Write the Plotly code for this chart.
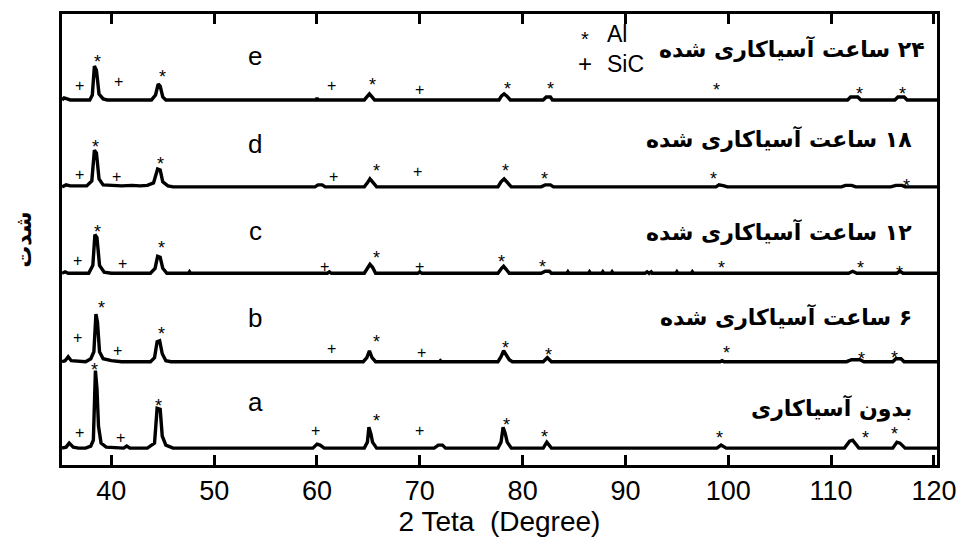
import plotly.graph_objects as go

# Diffraction patterns (2-theta in degrees, intensity in arbitrary units above each baseline)
a_x = [35.2, 35.6, 35.9, 36.3, 36.8, 37.5, 38.0, 38.25, 38.45, 38.6, 38.75, 39.0, 39.5, 40.5, 41.2, 41.5, 41.8,
       43.5, 44.2, 44.45, 44.75, 44.95, 45.3, 46.0, 59.6, 60.0, 60.3, 60.7, 64.6, 64.9, 65.05, 65.25, 65.4, 65.8,
       71.4, 71.8, 72.2, 72.5, 77.6, 77.9, 78.1, 78.3, 78.5, 78.9, 82.0, 82.35, 82.8, 98.9, 99.3, 99.8,
       111.3, 111.8, 112.1, 112.7, 116.0, 116.4, 116.7, 117.2, 120.3]
a_y = [0, 1, 5, 1, 0, 0, 2, 8, 78, 60, 22, 5, 1, 0, 0, 2, 0,
       0, 5, 40, 39, 12, 3, 0, 0, 4, 3, 0, 0, 6, 21, 14, 6, 0,
       0, 3, 3, 0, 0, 6, 21, 15, 6, 0, 0, 6, 0, 0, 3, 0,
       0, 7, 8, 0, 0, 6, 5, 0, 0]

b_x = [35.2, 35.5, 35.8, 36.1, 37.5, 38.0, 38.3, 38.5, 38.65, 38.85, 39.2, 40.0, 41.0, 43.8, 44.2, 44.45, 44.7,
       44.95, 45.3, 45.8, 64.5, 64.85, 65.1, 65.35, 65.7, 71.9, 72.0, 72.1, 77.6, 77.9, 78.15, 78.4, 78.7, 79.0,
       82.0, 82.4, 82.8, 99.2, 99.4, 99.6, 111.5, 112.0, 112.8, 113.2, 116.0, 116.3, 116.8, 117.1, 120.3]
b_y = [0, 1, 5, 1, 0, 3, 10, 48, 40, 10, 3, 1, 0, 0, 4, 20, 21,
       8, 1, 0, 0, 4, 11, 4, 0, 0, 1, 0, 0, 5, 11, 7, 2, 0,
       0, 4, 0, 0, 1, 0, 0, 2, 2, 0, 0, 3, 3, 0, 0]

c_x = [35.2, 35.5, 35.8, 37.8, 38.2, 38.4, 38.6, 38.85, 39.3, 40.0, 43.8, 44.25, 44.5, 44.75, 45.0, 45.4,
       47.5, 47.6, 47.7, 61.0, 61.2, 61.4, 64.6, 64.95, 65.15, 65.4, 65.7, 69.8, 70.0, 70.2,
       77.6, 77.95, 78.15, 78.4, 78.7, 81.8, 82.2, 82.6, 82.8, 84.3, 84.4, 84.5, 86.4, 86.5, 86.6,
       87.7, 87.8, 87.9, 88.6, 88.7, 88.8, 91.9, 92.1, 92.3, 92.5, 92.6, 94.9, 95.0, 95.1,
       96.4, 96.5, 96.6, 111.7, 112.1, 112.5, 116.4, 116.7, 117.0, 120.3]
c_y = [0, 1.5, 0, 0, 8, 39, 36, 8, 1, 0, 0, 5, 17, 16, 5, 0,
       0, 1.5, 0, 0, 1.5, 0, 0, 6, 9, 6, 0, 0, 1.5, 0,
       0, 5, 7, 4, 0, 0, 2, 2, 0, 0, 1.5, 0, 0, 1.5, 0,
       0, 1.5, 0, 0, 1.5, 0, 0, 1.5, 0, 1.5, 0, 0, 1.5, 0,
       0, 1.5, 0, 0, 2, 0, 0, 2, 0, 0]

d_x = [35.2, 35.6, 36.0, 37.0, 37.6, 38.1, 38.35, 38.55, 38.8, 39.2, 40.0, 41.0, 42.0, 42.8, 43.5, 44.1, 44.5,
       44.75, 45.0, 45.5, 46.0, 59.8, 60.1, 60.5, 60.8, 64.6, 64.9, 65.15, 65.4, 65.8, 77.6, 77.9, 78.2, 78.5,
       78.9, 81.8, 82.2, 82.7, 83.0, 98.8, 99.1, 99.6, 99.9, 111.0, 111.4, 112.0, 112.4, 115.8, 116.3, 116.9,
       117.2, 120.3]
d_y = [0, 2, 1, 1.5, 1, 6, 37, 34, 8, 2, 1.5, 1, 1.5, 1, 1.5, 4, 18,
       17, 5, 1, 0, 0, 2, 2, 0, 0, 4, 8, 5, 0, 0, 5, 8, 5,
       0, 0, 2, 2, 0, 0, 2, 1, 0, 0, 1.5, 1.5, 0, 0, 1.5, 1.5,
       0, 0]

e_x = [35.2, 35.4, 35.7, 36.0, 37.9, 38.15, 38.35, 38.55, 38.8, 39.2, 39.6, 43.9, 44.3, 44.55, 44.75, 45.0,
       45.3, 59.9, 60.0, 60.1, 64.6, 64.9, 65.1, 65.35, 65.6, 77.7, 77.95, 78.2, 78.45, 78.8, 82.0, 82.3,
       82.7, 82.9, 111.6, 111.9, 112.6, 112.9, 116.2, 116.5, 117.1, 117.4, 120.3]
e_y = [0, 2, 1, 0, 0, 5, 34, 30, 6, 1, 0, 0, 5, 16, 14, 3,
       0, 0, 2, 0, 0, 3, 6, 3, 0, 0, 4, 6, 4, 0, 0, 3,
       3, 0, 0, 3, 3, 0, 0, 3, 3, 0, 0]

# Phase markers: Al (*) and SiC (+), position and height above baseline
a_al_x = [38.4, 44.6, 65.8, 78.4, 82.1, 99.1, 113.3, 116.2]
a_al_y = [83, 46, 31, 27, 15, 14, 14, 18]
a_sic_x = [36.9, 40.9, 59.9, 70.0]
a_sic_y = [16, 11, 18, 18]

b_al_x = [39.0, 44.9, 65.8, 78.3, 82.5, 99.8, 113.0, 116.2]
b_al_y = [58, 32, 24, 18, 11, 13, 7, 8]
b_sic_x = [36.7, 40.6, 61.4, 70.2]
b_sic_y = [24, 11, 13, 9]

c_al_x = [38.7, 44.9, 65.8, 77.9, 81.9, 99.3, 112.9, 116.7]
c_al_y = [46, 29, 19, 15, 10, 9, 9, 4]
c_sic_x = [36.7, 41.1, 60.7, 70.0]
c_sic_y = [13, 10, 7, 7]

d_al_x = [38.5, 44.8, 65.8, 78.3, 82.1, 98.6, 117.3]
d_al_y = [44, 27, 20, 20, 12, 12, 5]
d_sic_x = [36.9, 40.5, 61.6, 69.8]
d_sic_y = [12, 10, 10, 15]

e_al_x = [38.7, 45.0, 65.4, 78.5, 82.7, 98.9, 112.8, 116.9]
e_al_y = [42.5, 27.5, 19.5, 15.5, 15.5, 14.5, 9.5, 9.5]
e_sic_x = [36.9, 40.7, 61.4, 70.0]
e_sic_y = [14.5, 18.5, 14.5, 10.5]

sample_letters = ["a", "b", "c", "d", "e"]
sample_titles = ["بدون آسیاکاری", "۶ ساعت آسیاکاری شده", "۱۲ ساعت آسیاکاری شده",
                 "۱۸ ساعت آسیاکاری شده", "۲۴ ساعت آسیاکاری شده"]

x_ticks = [40, 50, 60, 70, 80, 90, 100, 110, 120]
x_title = "2 Teta\u00a0\u00a0(Degree)"
y_title = "شدت"
legend_items = [("*", "Al"), ("+", "SiC")]

# Layout: vertical stacking offsets of each pattern
offsets = [17, 104, 193, 280, 367.5]
letter_y = [63, 148, 236, 323, 412]
title_y = [57, 149, 235, 329, 419]
title_x = [118.1, 118.1, 118.1, 118.1, 119.3]
legend_y = [434, 404]

patterns = [(a_x, a_y), (b_x, b_y), (c_x, c_y), (d_x, d_y), (e_x, e_y)]
al_marks = [(a_al_x, a_al_y), (b_al_x, b_al_y), (c_al_x, c_al_y), (d_al_x, d_al_y), (e_al_x, e_al_y)]
sic_marks = [(a_sic_x, a_sic_y), (b_sic_x, b_sic_y), (c_sic_x, c_sic_y), (d_sic_x, d_sic_y), (e_sic_x, e_sic_y)]

SANS = "Liberation Sans, Arial, sans-serif"
RTL_START, RTL_END = "\u202b", "\u202c"

fig = go.Figure()
annotations = []

for i, (xs, ys) in enumerate(patterns):
    off = offsets[i]
    fig.add_trace(go.Scatter(
        x=xs, y=[v + off for v in ys], mode="lines",
        line=dict(color="black", width=3.4), showlegend=False, hoverinfo="skip"))
    for mx, my in zip(*al_marks[i]):
        annotations.append(dict(x=mx, y=my + off, xref="x", yref="y", text="*", showarrow=False,
                                font=dict(family=SANS, size=18, color="black"), yshift=-4))
    for mx, my in zip(*sic_marks[i]):
        annotations.append(dict(x=mx, y=my + off, xref="x", yref="y", text="+", showarrow=False,
                                font=dict(family=SANS, size=16, color="black")))
    annotations.append(dict(x=54.0, y=letter_y[i], xref="x", yref="y", text=sample_letters[i],
                            showarrow=False, font=dict(family=SANS, size=26, color="black")))
    annotations.append(dict(x=title_x[i], y=title_y[i], xref="x", yref="y",
                            text="<b>" + RTL_START + sample_titles[i] + RTL_END + "</b>",
                            showarrow=False, xanchor="right",
                            font=dict(family="DejaVu Sans, Noto Sans, sans-serif", size=22, color="black")))

# Phase legend
for j, (sym, name) in enumerate(legend_items):
    yy = legend_y[j]
    annotations.append(dict(x=86.1, y=yy, xref="x", yref="y", text=sym, showarrow=False,
                            font=dict(family=SANS, size=20 if sym == "*" else 24, color="black"),
                            yshift=-5 if sym == "*" else 0))
    annotations.append(dict(x=88.0, y=yy, xref="x", yref="y", text=name, showarrow=False, xanchor="left",
                            font=dict(family=SANS, size=23, color="black")))

tick_font = dict(family=SANS, size=27, color="black")
title_font = dict(family=SANS, size=28, color="black")

fig.update_layout(
    width=970, height=537,
    margin=dict(l=62, r=33, t=11, b=72),
    paper_bgcolor="white", plot_bgcolor="white",
    annotations=annotations,
    xaxis=dict(range=[35.2, 120.3], tickvals=x_ticks, ticktext=[str(t) for t in x_ticks],
               ticks="inside", ticklen=10, tickwidth=3, tickcolor="black",
               showline=True, linewidth=3, linecolor="black", mirror="ticks",
               showgrid=False, zeroline=False, tickfont=tick_font,
               title=dict(text=x_title, font=title_font, standoff=0)),
    yaxis=dict(range=[0, 454], showticklabels=False, ticks="",
               showline=True, linewidth=3, linecolor="black", mirror=True,
               showgrid=False, zeroline=False,
               title=dict(text="<b>" + y_title + "</b>",
                          font=dict(family="DejaVu Sans, Noto Sans, sans-serif", size=22, color="black"),
                          standoff=22)),
)

fig.write_html("out.html")
